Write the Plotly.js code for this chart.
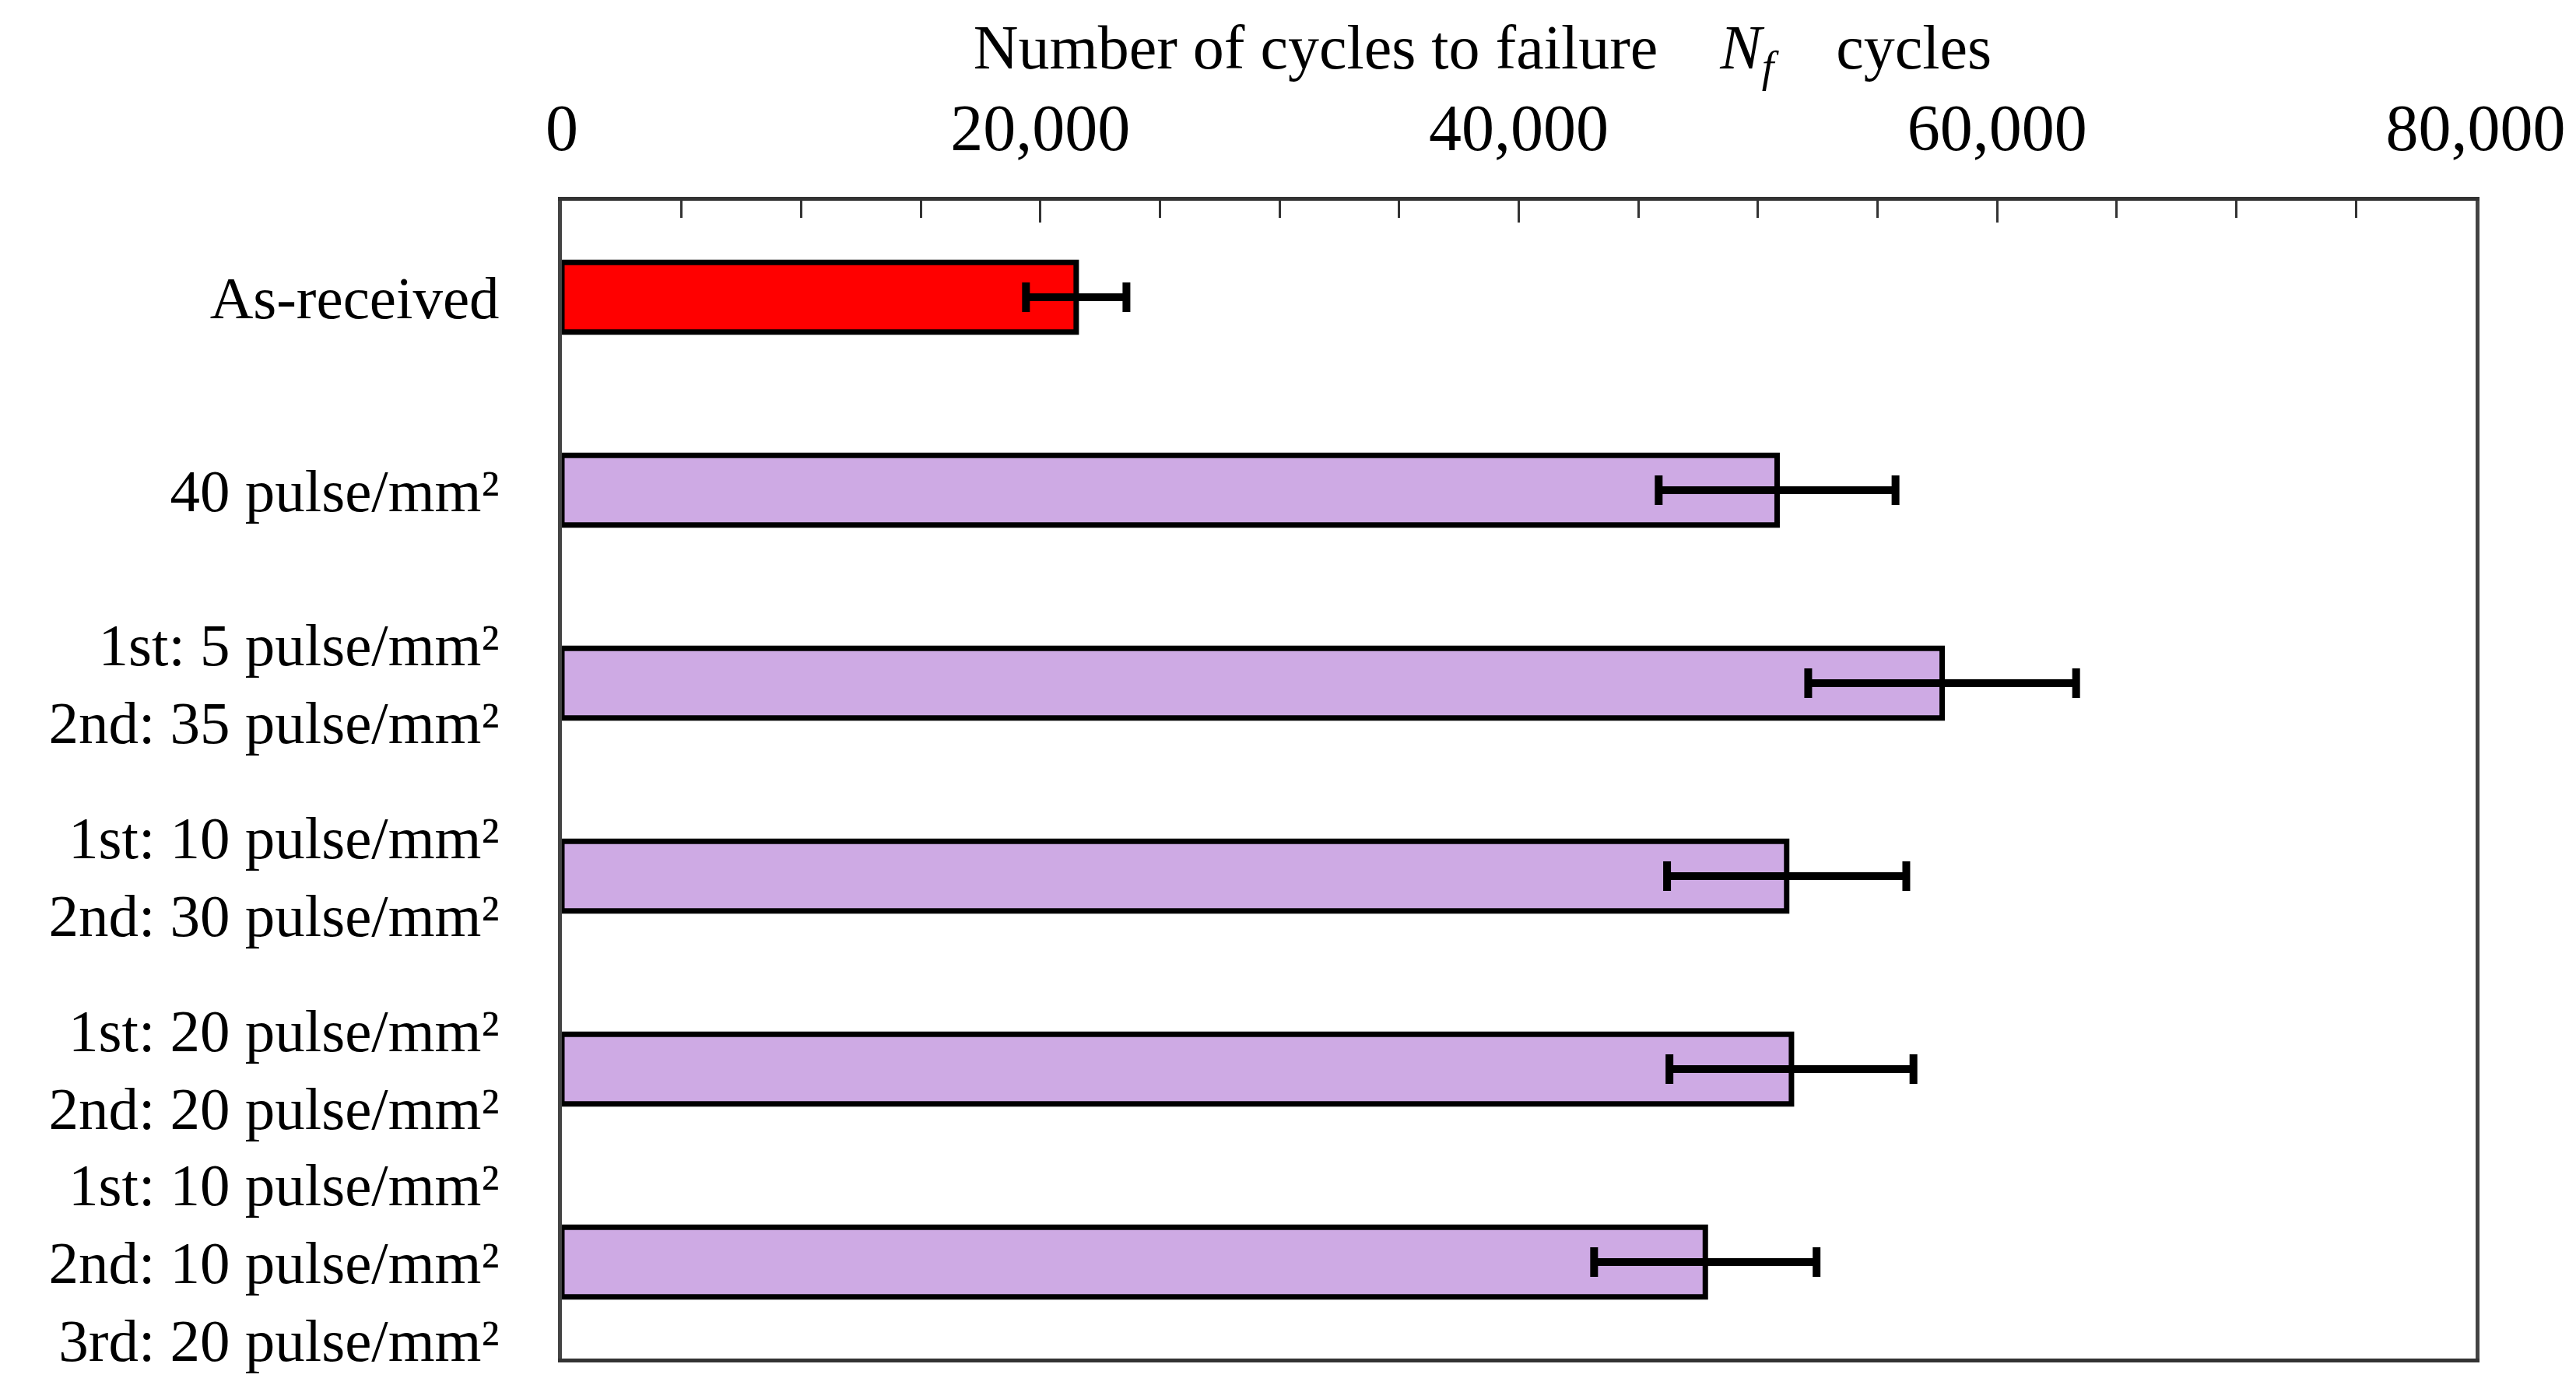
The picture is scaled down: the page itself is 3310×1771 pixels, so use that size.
<!DOCTYPE html>
<html>
<head>
<meta charset="utf-8">
<script src="https://cdn.plot.ly/plotly-3.0.1.min.js"></script>
<style>html,body{margin:0;padding:0;background:#fff;}#chart{width:3310px;height:1771px;}</style>
</head>
<body>
<div id="chart"></div>
<script>
const categories = [
  "As-received",
  "40 pulse/mm²",
  "1st: 5 pulse/mm²<br>2nd: 35 pulse/mm²",
  "1st: 10 pulse/mm²<br>2nd: 30 pulse/mm²",
  "1st: 20 pulse/mm²<br>2nd: 20 pulse/mm²",
  "1st: 10 pulse/mm²<br>2nd: 10 pulse/mm²<br>3rd: 20 pulse/mm²"
];
const cyclesToFailure = [21500, 50800, 57700, 51200, 51400, 47800];
const errorValues = [2100, 4950, 5600, 5000, 5100, 4650];
const barColors = ["#FF0000", "#CEAAE4", "#CEAAE4", "#CEAAE4", "#CEAAE4", "#CEAAE4"];
const xTickValues = [0, 20000, 40000, 60000, 80000];
const xTickLabels = ["0", "20,000", "40,000", "60,000", "80,000"];
const axisTitle = "Number of cycles to failure\u2003<i>N<sub>f</sub></i>\u2003cycles";

const serif = "Liberation Serif, Times New Roman, serif";

const trace = {
  type: "bar",
  orientation: "h",
  y: categories,
  x: cyclesToFailure,
  width: 0.36,
  marker: { color: barColors, line: { color: "#000", width: 7 } },
  error_x: { type: "data", array: errorValues, visible: true, color: "#000", thickness: 10, width: 19 },
  hoverinfo: "x+y"
};

const layout = {
  width: 3310, height: 1771,
  paper_bgcolor: "#fff", plot_bgcolor: "#fff",
  margin: { l: 722, r: 129, t: 258, b: 25 },
  showlegend: false,
  font: { family: serif, color: "#000" },
  title: {
    text: axisTitle,
    font: { size: 80, family: serif, color: "#000" },
    xref: "container", yref: "container",
    x: 0.5755, xanchor: "center",
    y: 0.966, yanchor: "middle"
  },
  xaxis: {
    side: "top",
    range: [0, 80000],
    tickvals: xTickValues,
    ticktext: xTickLabels,
    tickfont: { size: 84, family: serif, color: "#000" },
    ticks: "inside", ticklen: 28, tickwidth: 3, tickcolor: "#333",
    minor: { dtick: 5000, tick0: 0, ticks: "inside", ticklen: 22, tickwidth: 3, tickcolor: "#333", showgrid: false },
    showgrid: false, zeroline: false,
    showline: true, linecolor: "#333", linewidth: 5, mirror: true,
    ticklabelstandoff: 26
  },
  yaxis: {
    type: "category",
    categoryorder: "array",
    categoryarray: categories,
    autorange: "reversed",
    tickfont: { size: 77, family: serif, color: "#000" },
    ticks: "", showgrid: false, zeroline: false,
    showline: true, linecolor: "#444", linewidth: 5, mirror: true,
    ticklabelstandoff: 60
  }
};

Plotly.newPlot("chart", [trace], layout, { displayModeBar: false, staticPlot: true });
</script>
</body>
</html>
